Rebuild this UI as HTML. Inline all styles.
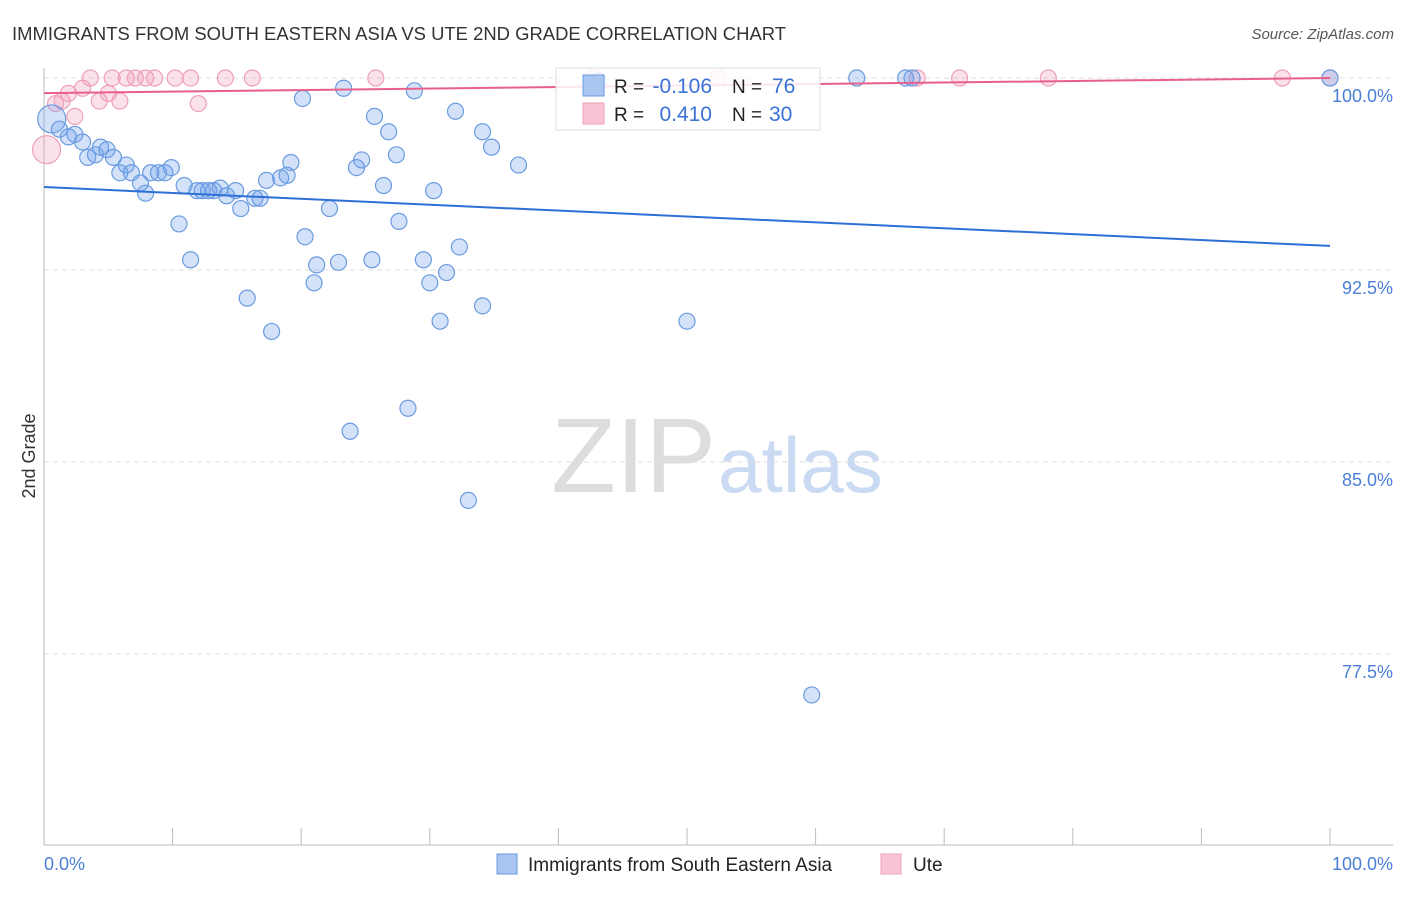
<!DOCTYPE html>
<html><head><meta charset="utf-8"><style>
body{margin:0;background:#fff;font-family:"Liberation Sans",Arial,sans-serif}
svg text{font-family:"Liberation Sans",Arial,sans-serif}
</style></head><body>
<svg id="c" width="1406" height="892" viewBox="0 0 1406 892">
<text x="12" y="40" font-size="18" fill="#333" textLength="774" lengthAdjust="spacingAndGlyphs">IMMIGRANTS FROM SOUTH EASTERN ASIA VS UTE 2ND GRADE CORRELATION CHART</text>
<text x="1394" y="39" font-size="15" fill="#555" text-anchor="end" font-style="italic">Source: ZipAtlas.com</text>
<text x="716" y="492" font-size="106" fill="#ddd" text-anchor="end" font-family="Liberation Serif">ZIP</text>
<text x="718" y="492" font-size="78" fill="#c9daf2">atlas</text>
<g id="grid"></g>
<g id="axes"></g>
<g id="pts"></g>
<g id="lines"></g>
<text x="35" y="456" font-size="18" fill="#333" text-anchor="middle" transform="rotate(-90 35 456)">2nd Grade</text>
<text x="44" y="870" font-size="18" fill="#4a7fd6">0.0%</text>
<text x="1393" y="870" font-size="18" fill="#4a7fd6" text-anchor="end">100.0%</text>
<g>
<rect x="556" y="68" width="264" height="62" fill="#fff" fill-opacity="0.85" stroke="#ddd"/>
<rect x="583" y="75" width="21" height="21" fill="#a9c6f0" stroke="#6a9be0"/>
<rect x="583" y="103" width="21" height="21" fill="#f8c4d4" stroke="#eea0b8"/>
<text x="614" y="93" font-size="19" fill="#222">R =</text>
<text x="712" y="93" font-size="21" fill="#3a72d8" text-anchor="end">-0.106</text>
<text x="732" y="93" font-size="19" fill="#222">N =</text>
<text x="772" y="93" font-size="21" fill="#3a72d8">76</text>
<text x="614" y="121" font-size="19" fill="#222">R =</text>
<text x="712" y="121" font-size="21" fill="#3a72d8" text-anchor="end">0.410</text>
<text x="732" y="121" font-size="19" fill="#222">N =</text>
<text x="769" y="121" font-size="21" fill="#3a72d8">30</text>
</g>
<g>
<rect x="497" y="854" width="20" height="20" fill="#a9c6f0" stroke="#6a9be0"/>
<text x="528" y="871" font-size="19" fill="#222">Immigrants from South Eastern Asia</text>
<rect x="881" y="854" width="20" height="20" fill="#f8c4d4" stroke="#eea0b8"/>
<text x="913" y="871" font-size="19" fill="#222">Ute</text>
</g>
</svg>
<script>
const yTicks=[100,92.5,85,77.5];
const yTickLabels=["100.0%","92.5%","85.0%","77.5%"];
const xTicks=[0,10,20,30,40,50,60,70,80,90,100];
const blueX=[0.6,1.2,1.9,2.4,3.0,3.4,4.0,4.4,4.9,5.4,5.9,6.4,6.8,7.5,7.9,8.3,8.9,9.4,9.9,10.5,10.9,11.4,11.9,12.3,12.8,13.2,13.7,14.2,14.9,15.3,15.8,16.4,16.8,17.3,17.7,18.4,18.9,19.2,20.1,20.3,21.0,21.2,22.2,22.9,23.3,23.8,24.3,24.7,25.5,25.7,26.4,26.8,27.4,27.6,28.3,28.8,29.5,30.0,30.3,30.8,31.3,32.0,32.3,33.0,34.1,34.1,34.8,36.9,43.1,50.0,59.7,63.2,67.0,67.5,100];
const blueY=[98.4,98.0,97.7,97.8,97.5,96.9,97.0,97.3,97.2,96.9,96.3,96.6,96.3,95.9,95.5,96.3,96.3,96.3,96.5,94.3,95.8,92.9,95.6,95.6,95.6,95.6,95.7,95.4,95.6,94.9,91.4,95.3,95.3,96.0,90.1,96.1,96.2,96.7,99.2,93.8,92.0,92.7,94.9,92.8,99.6,86.2,96.5,96.8,92.9,98.5,95.8,97.9,97.0,94.4,87.1,99.5,92.9,92.0,95.6,90.5,92.4,98.7,93.4,83.5,97.9,91.1,97.3,96.6,99.9,90.5,75.9,100,100,100,100];
const pinkX=[0.2,0.9,1.4,1.9,2.4,3.0,3.6,4.3,5.0,5.3,5.9,6.4,7.1,7.9,8.6,10.2,11.4,12.0,14.1,16.2,25.8,42.8,52.4,67.9,71.2,78.1,96.3,100];
const pinkY=[97.2,99.0,99.1,99.4,98.5,99.6,100,99.1,99.4,100,99.1,100,100,100,100,100,100,99.0,100,100,100,100,100,100,100,100,100,100];
const blueTrend=[95.74,93.44];
const pinkTrend=[99.41,100.0];
const NS='http://www.w3.org/2000/svg';
const X=v=>44+v*12.86;
const Y=v=>78+(100-v)*25.6;
function mk(tag,attrs,parent){const e=document.createElementNS(NS,tag);for(const k in attrs)e.setAttribute(k,attrs[k]);document.getElementById(parent).appendChild(e);return e;}
yTicks.forEach((t,i)=>{
 const g=mk('line',{x1:44,x2:1393,y1:Y(t),y2:Y(t),stroke:'#ddd','stroke-dasharray':'5,4'},'grid');
 
 
 const l=mk('text',{x:1393,y:Y(t)+24,'font-size':18,fill:'#4a7fd6','text-anchor':'end'},'grid');
 l.textContent=yTickLabels[i];
 
 
});
const ax=mk('line',{x1:44,x2:1393,y1:845,y2:845,stroke:'#bbb'},'axes');


const ay=mk('line',{x1:44,x2:44,y1:68,y2:845,stroke:'#bbb'},'axes');


xTicks.forEach(t=>{
 const k=mk('line',{x1:X(t),x2:X(t),y1:828,y2:845,stroke:'#bbb'},'axes');
 
 
});
pinkX.forEach((v,i)=>{
 const c=mk('circle',{cx:X(v),cy:Y(pinkY[i]),r:i===0?14:8,fill:'rgba(242,150,180,0.28)',stroke:'#eea0b8','stroke-width':1.2},'pts');
 
 
});
blueX.forEach((v,i)=>{
 const c=mk('circle',{cx:X(v),cy:Y(blueY[i]),r:i===0?14:8,fill:'rgba(110,160,235,0.3)',stroke:'#6a9be0','stroke-width':1.2},'pts');
 
 
});
const bl=mk('line',{x1:X(0),x2:X(100),y1:Y(blueTrend[0]),y2:Y(blueTrend[1]),stroke:'#2d6fd6','stroke-width':2},'lines');


const pl=mk('line',{x1:X(0),x2:X(100),y1:Y(pinkTrend[0]),y2:Y(pinkTrend[1]),stroke:'#e8608a','stroke-width':2},'lines');


</script>
</body></html>
